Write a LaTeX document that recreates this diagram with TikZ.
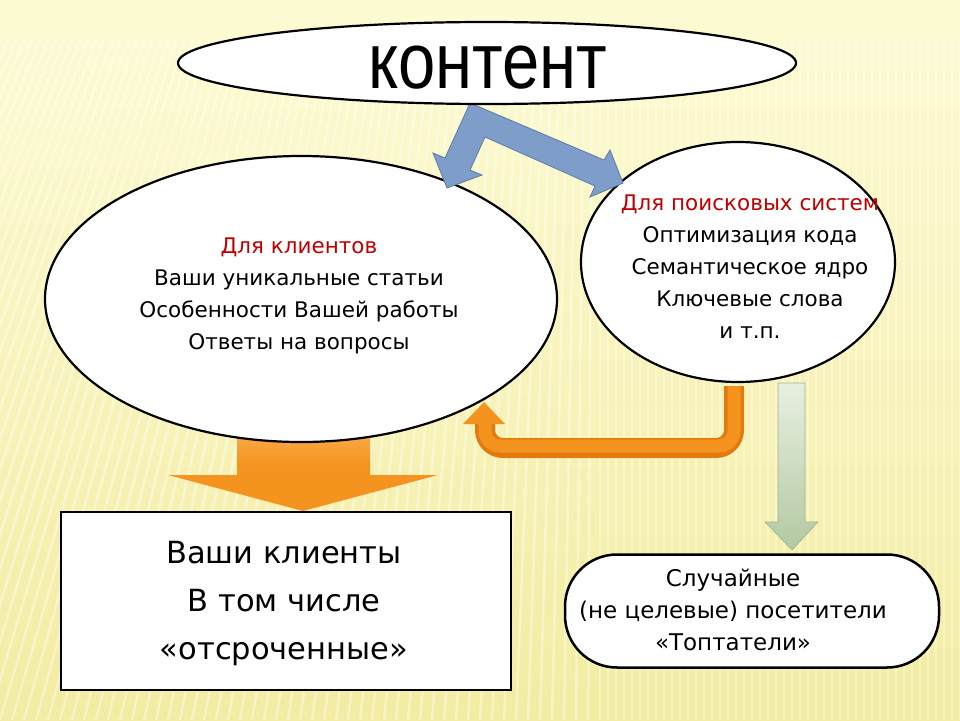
\documentclass[tikz,border=0pt]{standalone}
\usepackage{fontspec}
\setmainfont{DejaVu Sans}
\newfontfamily\headfont{Liberation Sans}
\usetikzlibrary{shapes.geometric,shadings}
\definecolor{bgtop}{HTML}{FDFBD4}
\definecolor{bgbot}{HTML}{F3ECA2}
\definecolor{tred}{HTML}{C00000}
\definecolor{bluefill}{HTML}{7E9DC9}
\definecolor{blueline}{HTML}{5B7BA7}
\definecolor{orangemain}{HTML}{F5931F}
\definecolor{orangelight}{HTML}{FBB356}
\definecolor{orangedark}{HTML}{E27A10}
\definecolor{greentop}{HTML}{E8F0E1}
\definecolor{greenbot}{HTML}{B3C8A2}
\definecolor{greenline}{HTML}{9FB58D}
\tikzset{
  ell/.style={ellipse, draw=black, line width=2.2pt, fill=white, inner sep=0pt},
  txt/.style={align=center, font=\fontsize{21.5}{32}\selectfont, inner sep=0pt},
  stripe/.style={white, opacity=0.38, line width=2.6pt},
}
\begin{document}
\begin{tikzpicture}[x=1pt,y=-1pt]
\useasboundingbox (0,0) rectangle (960,720);
\shade[top color=bgtop, bottom color=bgbot] (0,0) rectangle (960,720);
\begin{scope}
\clip (0,40) rectangle (960,720);
\foreach \x in {0,8,...,968} {
  \pgfmathsetmacro{\s}{\x<600 ? -0.5*(600-\x) : 0}
  \draw[stripe] (\x,40) -- (\x+\s,720);
}
\end{scope}

% big orange arrow (behind left ellipse)
\shade[top color=orangelight, bottom color=orangemain, middle color=orangemain]
  (237,420) -- (370,420) -- (370,475) -- (438,475) -- (303,511) -- (168,475) -- (237,475) -- cycle;

% ellipses
\node[ell, minimum width=512pt, minimum height=286pt] (clients) at (301,299) {};
\node[txt] (clientstext) at (299,296) {\textcolor{tred}{Для клиентов}\\Ваши уникальные статьи\\Особенности Вашей работы\\Ответы на вопросы};

\node[ell, minimum width=314pt, minimum height=240pt] (seo) at (738,262) {};
\node[txt] (seotext) at (750,267) {\textcolor{tred}{Для поисковых систем}\\Оптимизация кода\\Семантическое ядро\\Ключевые слова\\и т.п.};

% blue bent arrow
\draw[fill=bluefill, draw=blueline, line width=0.8pt, line join=miter]
  (470,103) -- (604,160) -- (610,150) -- (623,183) -- (590,197) -- (595,186)
  -- (485,137) -- (470,170) -- (482,175) -- (447,188) -- (433,153) -- (445,158) -- cycle;

% top ellipse
\node[ell, minimum width=618pt, minimum height=82pt] (content) at (487,63) {};
\node[inner sep=0pt, font=\headfont\fontsize{67}{67}\selectfont] (contenttext) at (488,68) {\scalebox{1}[1.18]{контент}};

% orange U arrow
\draw[orangedark, line width=20pt, rounded corners=18pt]
  (734,386) -- (734,448) -- (485,448) -- (485,423);
\draw[orangemain, line width=13pt, rounded corners=15pt]
  (734,386) -- (734,446) -- (485,446) -- (485,423);
\fill[orangemain] (463,424) -- (484,402) -- (505,424) -- cycle;

% green arrow
\shade[top color=greentop, bottom color=greenbot, draw=greenline, line width=0.6pt]
  (778,383) -- (805,383) -- (805,522) -- (818,522) -- (792,550) -- (765,522) -- (778,522) -- cycle;

% bottom boxes
\node[draw=black, line width=2.5pt, fill=white, minimum width=450pt, minimum height=178pt, inner sep=0pt] (clientsbox) at (286,601) {};
\node[align=center, inner sep=0pt, font=\fontsize{30.5}{48}\selectfont] (clientsboxtext) at (284,604) {Ваши клиенты\\В том числе\\«отсроченные»};

\node[draw=black, line width=2.5pt, fill=white, rounded corners=52pt, minimum width=374pt, minimum height=113pt, inner sep=0pt] (visitors) at (752,611) {};
\node[align=center, inner sep=0pt, font=\fontsize{23}{32}\selectfont] (visitorstext) at (733,610) {Случайные\\(не целевые) посетители\\«Топтатели»};
\end{tikzpicture}
\end{document}
